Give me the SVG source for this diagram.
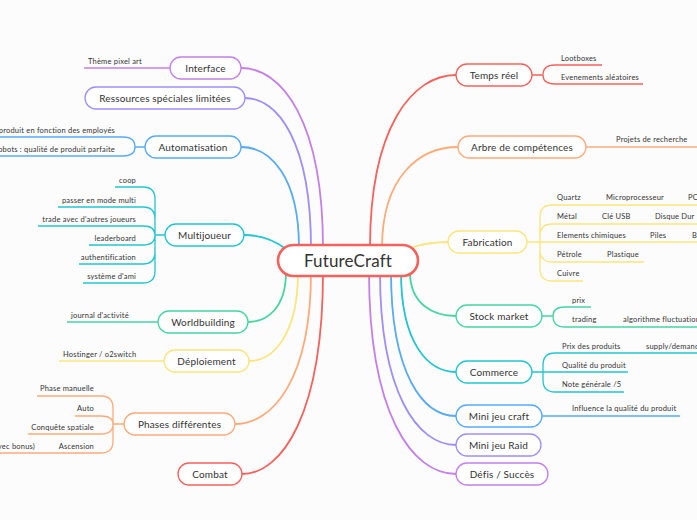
<svg xmlns="http://www.w3.org/2000/svg" width="697" height="520" viewBox="0 0 697 520">
<style>
.n rect{fill:#fff;stroke-width:1.3}
.n text{font-family:Lato,"Noto Sans",sans-serif;font-size:10px;fill:#333;text-anchor:middle;letter-spacing:0.15px}
.c path{fill:none;stroke-width:1.8;stroke-linecap:round}
.s path{fill:none;stroke-width:1.3}
.t{font-family:Lato,"Noto Sans",sans-serif;font-size:7.5px;fill:#333;letter-spacing:0.2px}
.e{text-anchor:end}
.red{stroke:#f5615c}.ora{stroke:#fdab7b}.yel{stroke:#fce47e}.gre{stroke:#45d5a1}.cya{stroke:#21c5cf}.blu{stroke:#57aaf6}.lav{stroke:#9f8ef7}.pur{stroke:#c47fe9}
</style>
<rect width="697" height="520" fill="#fcfcfc"/>
<g id="connectors">
<g class="c">
<path class="pur" d="M241,68 C282,68 323,121 323,248"/>
<path class="lav" d="M245,98 C278,98 311,142 311,248"/>
<path class="blu" d="M241,147 C270,147 299,176 299,248"/>
<path class="cya" d="M244,235 C262,235 274,240 286,249"/>
<path class="gre" d="M248,322 C267,322 286,308 286,272"/>
<path class="yel" d="M249,361 C273,361 298,335 298,272"/>
<path class="ora" d="M235,424 C273,424 311,379 311,272"/>
<path class="red" d="M242,474 C282,474 323,414 323,272"/>
<path class="red" d="M456,75 C413,75 370,126 370,248"/>
<path class="ora" d="M458,147 C420,147 382,176 382,248"/>
<path class="yel" d="M410,248 C425,243 435,242 448,242"/>
<path class="gre" d="M456,316 C433,316 410,304 410,272"/>
<path class="cya" d="M456,372 C428,372 401,343 401,272"/>
<path class="blu" d="M456,416 C423,416 391,374 391,272"/>
<path class="lav" d="M456,445 C418,445 380,394 380,272"/>
<path class="pur" d="M456,474 C412,474 369,414 369,272"/>
</g>
<g class="s">
<path class="pur" d="M170,68 H84"/>
<path class="blu" d="M145,147 H135 M135,147 Q135,137 123,137 H-5 M135,147 Q135,156 123,156 H-5"/>
<path class="cya" d="M165,235 H155 M155,235 V199 Q155,187 143,187 H115 M155,235 V219 Q155,207 143,207 H58 M155,235 Q155,226 143,226 H38 M155,235 Q155,245 143,245 H89 M155,235 V252 Q155,264 143,264 H79 M155,235 V271 Q155,283 143,283 H83"/>
<path class="gre" d="M158,322 H67"/>
<path class="yel" d="M164,361 H59"/>
<path class="ora" d="M124,424 H113 M113,424 V408 Q113,396 101,396 H37 M113,424 Q113,416 101,416 H75 M113,424 Q113,434 101,434 H28 M113,424 V441 Q113,453 101,453 H-5"/>
<path class="red" d="M532,75 H543 M543,75 Q543,65 555,65 H602 M543,75 Q543,84 555,84 H643"/>
<path class="ora" d="M586,147 H697"/>
<path class="yel" d="M527,242 H540 M540,242 V217 Q540,205 552,205 H697 M540,242 V236 Q540,224 552,224 H697 M540,242 H697 M540,242 V250 Q540,262 552,262 H644 M540,242 V269 Q540,281 552,281 H583"/>
<path class="gre" d="M542,316 H553 M553,316 Q553,307 565,307 H591 M553,316 Q553,327 565,327 H697"/>
<path class="cya" d="M532,372 H543 M543,372 V365 Q543,353 555,353 H697 M543,372 H628 M543,372 V380 Q543,392 555,392 H624"/>
<path class="blu" d="M542,416 H680"/>
</g>
</g>
<g id="center" class="n"><rect x="278" y="245" width="140" height="31" rx="15.5" class="red" style="stroke-width:2.6"/><text x="348" y="266.5" style="font-size:17px">FutureCraft</text></g>
<g id="interface" class="n"><rect x="170" y="57" width="71" height="22" rx="11" class="pur"/><text x="205.5" y="71.5">Interface</text></g>
<g id="ressources" class="n"><rect x="85" y="87" width="160" height="22" rx="11" class="lav"/><text x="165" y="101.5">Ressources spéciales limitées</text></g>
<g id="automatisation" class="n"><rect x="145" y="136" width="96" height="22" rx="11" class="blu"/><text x="193" y="150.5">Automatisation</text></g>
<g id="multijoueur" class="n"><rect x="165" y="224" width="79" height="22" rx="11" class="cya"/><text x="204.5" y="238.5">Multijoueur</text></g>
<g id="worldbuilding" class="n"><rect x="158" y="311" width="90" height="22" rx="11" class="gre"/><text x="203" y="325.5">Worldbuilding</text></g>
<g id="deploiement" class="n"><rect x="164" y="350" width="85" height="22" rx="11" class="yel"/><text x="206.5" y="364.5">Déploiement</text></g>
<g id="phases" class="n"><rect x="124" y="413" width="111" height="22" rx="11" class="ora"/><text x="179.5" y="427.5">Phases différentes</text></g>
<g id="combat" class="n"><rect x="178" y="463" width="64" height="22" rx="11" class="red"/><text x="210" y="477.5">Combat</text></g>
<g id="tempsreel" class="n"><rect x="456" y="64" width="76" height="22" rx="11" class="red"/><text x="494" y="78.5">Temps réel</text></g>
<g id="arbre" class="n"><rect x="458" y="136" width="128" height="22" rx="11" class="ora"/><text x="522" y="150.5">Arbre de compétences</text></g>
<g id="fabrication" class="n"><rect x="448" y="231" width="79" height="22" rx="11" class="yel"/><text x="487.5" y="245.5">Fabrication</text></g>
<g id="stock" class="n"><rect x="456" y="305" width="86" height="22" rx="11" class="gre"/><text x="499" y="319.5">Stock market</text></g>
<g id="commerce" class="n"><rect x="456" y="361" width="76" height="22" rx="11" class="cya"/><text x="494" y="375.5">Commerce</text></g>
<g id="minicraft" class="n"><rect x="456" y="405" width="86" height="22" rx="11" class="blu"/><text x="499" y="419.5">Mini jeu craft</text></g>
<g id="miniraid" class="n"><rect x="456" y="434" width="85" height="22" rx="11" class="lav"/><text x="498.5" y="448.5">Mini jeu Raid</text></g>
<g id="defis" class="n"><rect x="456" y="463" width="92" height="22" rx="11" class="pur"/><text x="502" y="477.5">Défis / Succès</text></g>
<g id="labels">
<text class="t" x="88" y="64">Thème pixel art</text>
<text class="t e" x="115" y="133">produit en fonction des employés</text>
<text class="t e" x="115" y="152">Robots : qualité de produit parfaite</text>
<text class="t e" x="136" y="183">coop</text>
<text class="t e" x="136" y="203">passer en mode multi</text>
<text class="t e" x="136" y="222">trade avec d'autres joueurs</text>
<text class="t e" x="136" y="241">leaderboard</text>
<text class="t e" x="136" y="260">authentification</text>
<text class="t e" x="136" y="279">système d'ami</text>
<text class="t" x="71" y="318">journal d'activité</text>
<text class="t" x="63" y="357">Hostinger / o2switch</text>
<text class="t e" x="94" y="391">Phase manuelle</text>
<text class="t e" x="94" y="411">Auto</text>
<text class="t e" x="94" y="430">Conquête spatiale</text>
<text class="t e" x="94" y="449">Ascension</text>
<text class="t e" x="35" y="449">(avec bonus)</text>
<text class="t" x="561" y="61">Lootboxes</text>
<text class="t" x="561" y="80">Evenements aléatoires</text>
<text class="t" x="616" y="142">Projets de recherche</text>
<text class="t" x="557" y="200">Quartz</text>
<text class="t" x="606" y="200">Microprocesseur</text>
<text class="t" x="688" y="200">PC</text>
<text class="t" x="557" y="219">Métal</text>
<text class="t" x="602" y="219">Clé USB</text>
<text class="t" x="655" y="219">Disque Dur</text>
<text class="t" x="557" y="238">Elements chimiques</text>
<text class="t" x="650" y="238">Piles</text>
<text class="t" x="692" y="238">Batteries</text>
<text class="t" x="557" y="257">Pétrole</text>
<text class="t" x="607" y="257">Plastique</text>
<text class="t" x="557" y="276">Cuivre</text>
<text class="t" x="572" y="303">prix</text>
<text class="t" x="572" y="322">trading</text>
<text class="t" x="623" y="322">algorithme fluctuation</text>
<text class="t" x="562" y="349">Prix des produits</text>
<text class="t" x="646" y="349">supply/demand</text>
<text class="t" x="562" y="368">Qualité du produit</text>
<text class="t" x="562" y="387">Note générale /5</text>
<text class="t" x="572" y="411">Influence la qualité du produit</text>
</g>
</svg>
